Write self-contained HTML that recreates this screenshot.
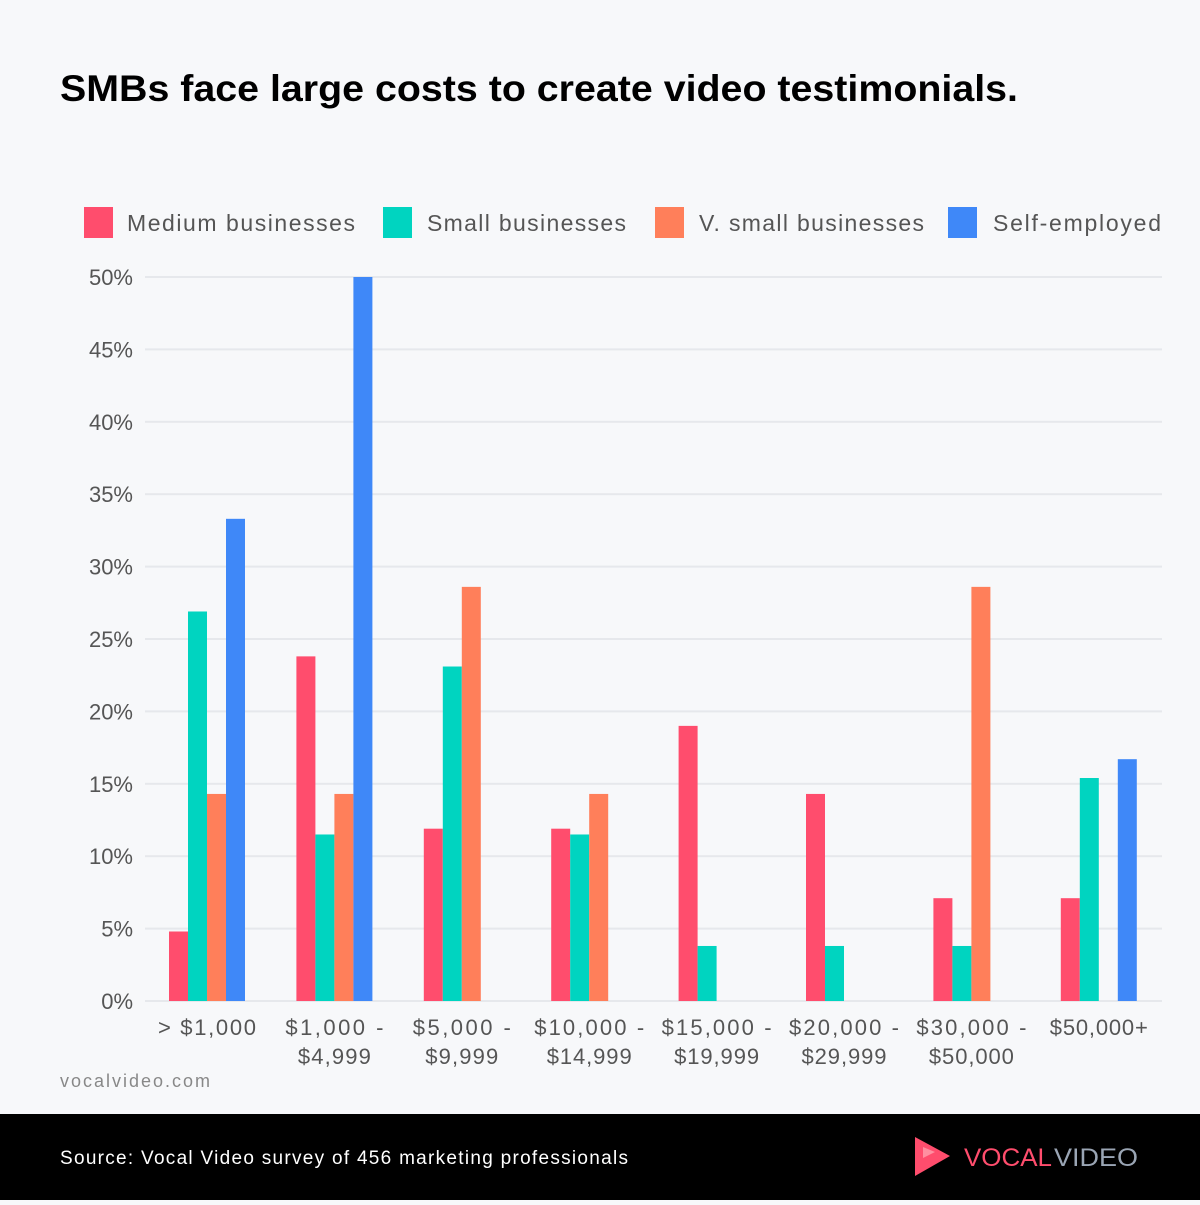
<!DOCTYPE html>
<html><head><meta charset="utf-8"><style>
body{margin:0;width:1200px;height:1200px;background:#f7f8fa;font-family:"Liberation Sans",sans-serif;overflow:hidden}
</style></head><body>
<svg id="s" width="1200" height="1200" xmlns="http://www.w3.org/2000/svg" font-family="Liberation Sans, sans-serif">
<rect width="1200" height="1200" fill="#f7f8fa"/>
<text x="60" y="101" font-size="37" font-weight="bold" fill="#000" textLength="958" lengthAdjust="spacingAndGlyphs">SMBs face large costs to create video testimonials.</text>
<g font-size="23" fill="#555">
<rect x="84" y="207" width="29" height="31" fill="#ff4d6d"/><text x="127" y="231" textLength="228">Medium businesses</text>
<rect x="383" y="207" width="29" height="31" fill="#00d4c0"/><text x="427" y="231" textLength="199">Small businesses</text>
<rect x="655" y="207" width="29" height="31" fill="#ff7f5a"/><text x="699" y="231" textLength="225">V. small businesses</text>
<rect x="948" y="207" width="29" height="31" fill="#3f88f8"/><text x="993" y="231" textLength="168">Self-employed</text>
</g>
<g id="grid"></g>
<g id="bars"></g>
<g font-size="22" fill="#555" text-anchor="middle" id="xl"></g>
<text x="60" y="1087" font-size="18" fill="#888" textLength="150">vocalvideo.com</text>
<rect x="0" y="1114" width="1200" height="86" fill="#000"/>
<text x="60" y="1164" font-size="19" fill="#fff" textLength="568">Source: Vocal Video survey of 456 marketing professionals</text>
<polygon points="915,1137 915,1176 950,1156" fill="#ff4d6d"/>
<polygon points="923,1147 923,1158 935,1152" fill="#ff8fa0"/>
<text x="964" y="1166" font-size="25" fill="#ff4d6d" textLength="88" lengthAdjust="spacingAndGlyphs">VOCAL</text>
<text x="1054" y="1166" font-size="25" fill="#9aa5b4" textLength="84" lengthAdjust="spacingAndGlyphs">VIDEO</text>
</svg>
<script>
var ns="http://www.w3.org/2000/svg";
function el(p,t,a,txt){var e=document.createElementNS(ns,t);for(var k in a)e.setAttribute(k,a[k]);if(txt)e.textContent=txt;document.getElementById(p).appendChild(e);}
var y0=1001,k=14.48;
for(var i=0;i<=10;i++){var y=y0-i*5*k;
el('grid','rect',{x:145,y:y-1,width:1017,height:2,fill:'#e6e8ec'});
el('grid','text',{x:133,y:y+8,'font-size':22,fill:'#555','text-anchor':'end'},(i*5)+'%');}
var d=[[4.8,26.9,14.3,33.3],[23.8,11.5,14.3,50],[11.9,23.1,28.6,0],[11.9,11.5,14.3,0],[19.0,3.8,0,0],[14.3,3.8,0,0],[7.1,3.8,28.6,0],[7.1,15.4,0,16.7]];
var c=['#ff4d6d','#00d4c0','#ff7f5a','#3f88f8'];
var lab=[['> $1,000'],['$1,000 -','$4,999'],['$5,000 -','$9,999'],['$10,000 -','$14,999'],['$15,000 -','$19,999'],['$20,000 -','$29,999'],['$30,000 -','$50,000'],['$50,000+']];
for(var g=0;g<8;g++){var x0=169+g*127.4;
for(var j=0;j<4;j++){var v=d[g][j];if(v>0){var h=v*k;el('bars','rect',{x:x0+j*19,y:y0-h,width:19,height:h,fill:c[j]});}}
lab[g].forEach(function(t,n){el('xl','text',{x:x0+38,y:1035+n*29,textLength:Math.round(t.length*12.2)},t);});}
</script>
</body></html>
